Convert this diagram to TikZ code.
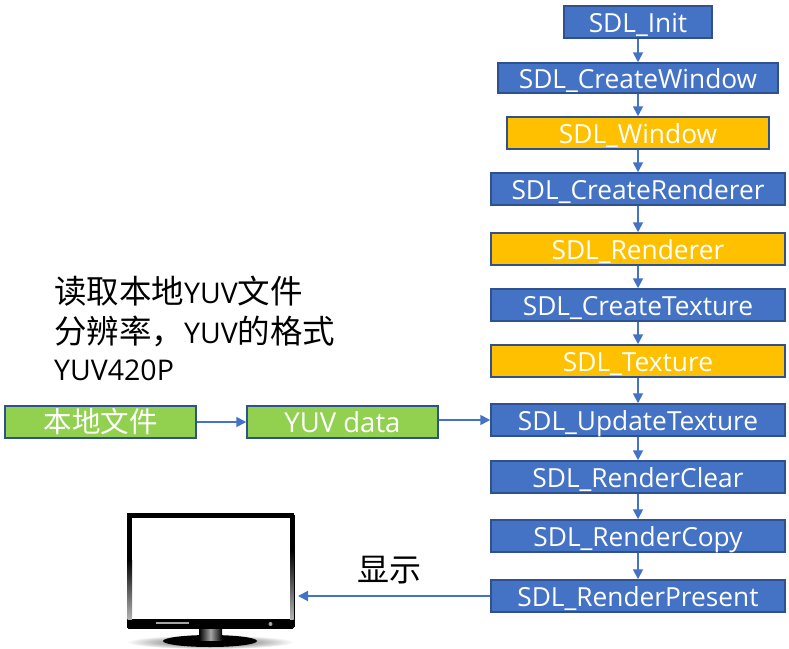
\documentclass[tikz,border=0pt]{standalone}
\usepackage{fontspec}
\setmainfont{Open Sans}
\newfontfamily\cjk{Noto Sans CJK SC}
\usetikzlibrary{arrows.meta}
\definecolor{sdlblue}{HTML}{4472C4}
\definecolor{sdledge}{HTML}{2F528F}
\definecolor{sdlgold}{HTML}{FFC000}
\definecolor{sdlgreen}{HTML}{92D050}
\newcommand{\cjkbig}{\fontsize{32.5}{32.5}\cjk\selectfont}
\tikzset{
  box/.style={draw=sdledge,line width=1.5pt,text=white,inner sep=0pt,text height=24pt,text depth=4pt,font=\fontsize{26.3}{26.3}\selectfont},
  bluebox/.style={box,fill=sdlblue},
  goldbox/.style={box,fill=sdlgold},
  greenbox/.style={box,fill=sdlgreen},
  link/.style={draw=sdlblue,line width=1.8pt,-{Triangle[length=10pt,width=10pt]}},
  note/.style={anchor=base west,inner sep=0pt,text=black,font=\fontsize{28.5}{28.5}\selectfont},
}
\newcommand{\boxat}[7]{\node[#1,minimum width=#4pt-#3pt,minimum height=#6pt-#5pt] (#2) at ({(#3+#4)/2},{(#5+#6)/2}) {#7};}
\begin{document}
\begin{tikzpicture}[x=1pt,y=-1pt]
\useasboundingbox (0,0) rectangle (789,648);
\boxat{bluebox}{init}{564}{712}{6}{38}{SDL\_Init}
\boxat{bluebox}{cwin}{498}{778}{63}{93}{SDL\_CreateWindow}
\boxat{goldbox}{win}{507}{769}{117}{149}{SDL\_Window}
\boxat{bluebox}{cren}{491}{785}{173}{205}{SDL\_CreateRenderer}
\boxat{goldbox}{ren}{491}{785}{233}{265}{SDL\_Renderer}
\boxat{bluebox}{ctex}{491}{785}{289}{321}{SDL\_CreateTexture}
\boxat{goldbox}{tex}{491}{785}{345}{377}{SDL\_Texture}
\boxat{bluebox}{utex}{491}{785}{404}{436}{SDL\_UpdateTexture}
\boxat{bluebox}{clear}{491}{785}{461}{493}{SDL\_RenderClear}
\boxat{bluebox}{copy}{491}{785}{520}{552}{SDL\_RenderCopy}
\boxat{bluebox}{pres}{491}{785}{580}{612}{SDL\_RenderPresent}
\boxat{greenbox}{file}{5}{196}{406}{438}{\fontsize{28.5}{28.5}\cjk\selectfont 本地文件}
\boxat{greenbox}{yuv}{247}{438}{406}{438}{\fontsize{27.5}{27.5}\selectfont YUV data}
\foreach \a/\b in {init/cwin,cwin/win,win/cren,cren/ren,ren/ctex,ctex/tex,tex/utex,utex/clear,clear/copy,copy/pres}
  \draw[link] (\a.south) -- (\a.south |- \b.north);
\draw[link] (file) -- (yuv);
\draw[link] (yuv.east |- utex.west) -- (utex.west);
% monitor
\shade[inner color=black!75,outer color=white,draw=none] (210,642) ellipse [x radius=84,y radius=7];
\fill[black] (210,641) ellipse [x radius=47,y radius=6];
\shade[left color=black,right color=black,middle color=gray!70] (199,627) rectangle (222,640);
\node[draw=black,line width=0pt,fill=black,rounded corners=2pt,minimum width=167pt,minimum height=115pt,inner sep=0pt] (mon) at (210.5,570.5) {};
\fill[white] (132,518) rectangle (290,619);
\shade[top color=black,bottom color=gray!60] (127.5,560) rectangle (132,619);
\shade[top color=black,bottom color=gray!60] (290,550) rectangle (293.5,619);
\fill[gray!70] (156,621.5) rectangle (189,624);
\fill[gray!70] (270.5,624) circle [radius=2];
\draw[link] (pres.west) -- ([xshift=4pt]mon.east |- pres.west);
% labels
\node[note] (n1) at (54,303) {{\cjkbig 读取本地}YUV{\cjkbig 文件}};
\node[note] (n2) at (54,343) {{\cjkbig 分辨率，}YUV{\cjkbig 的格式}};
\node[note] (n3) at (54,380) {YUV420P};
\node[note] (n4) at (357,581) {\fontsize{32}{32}\cjk\selectfont 显示};
\end{tikzpicture}
\end{document}
